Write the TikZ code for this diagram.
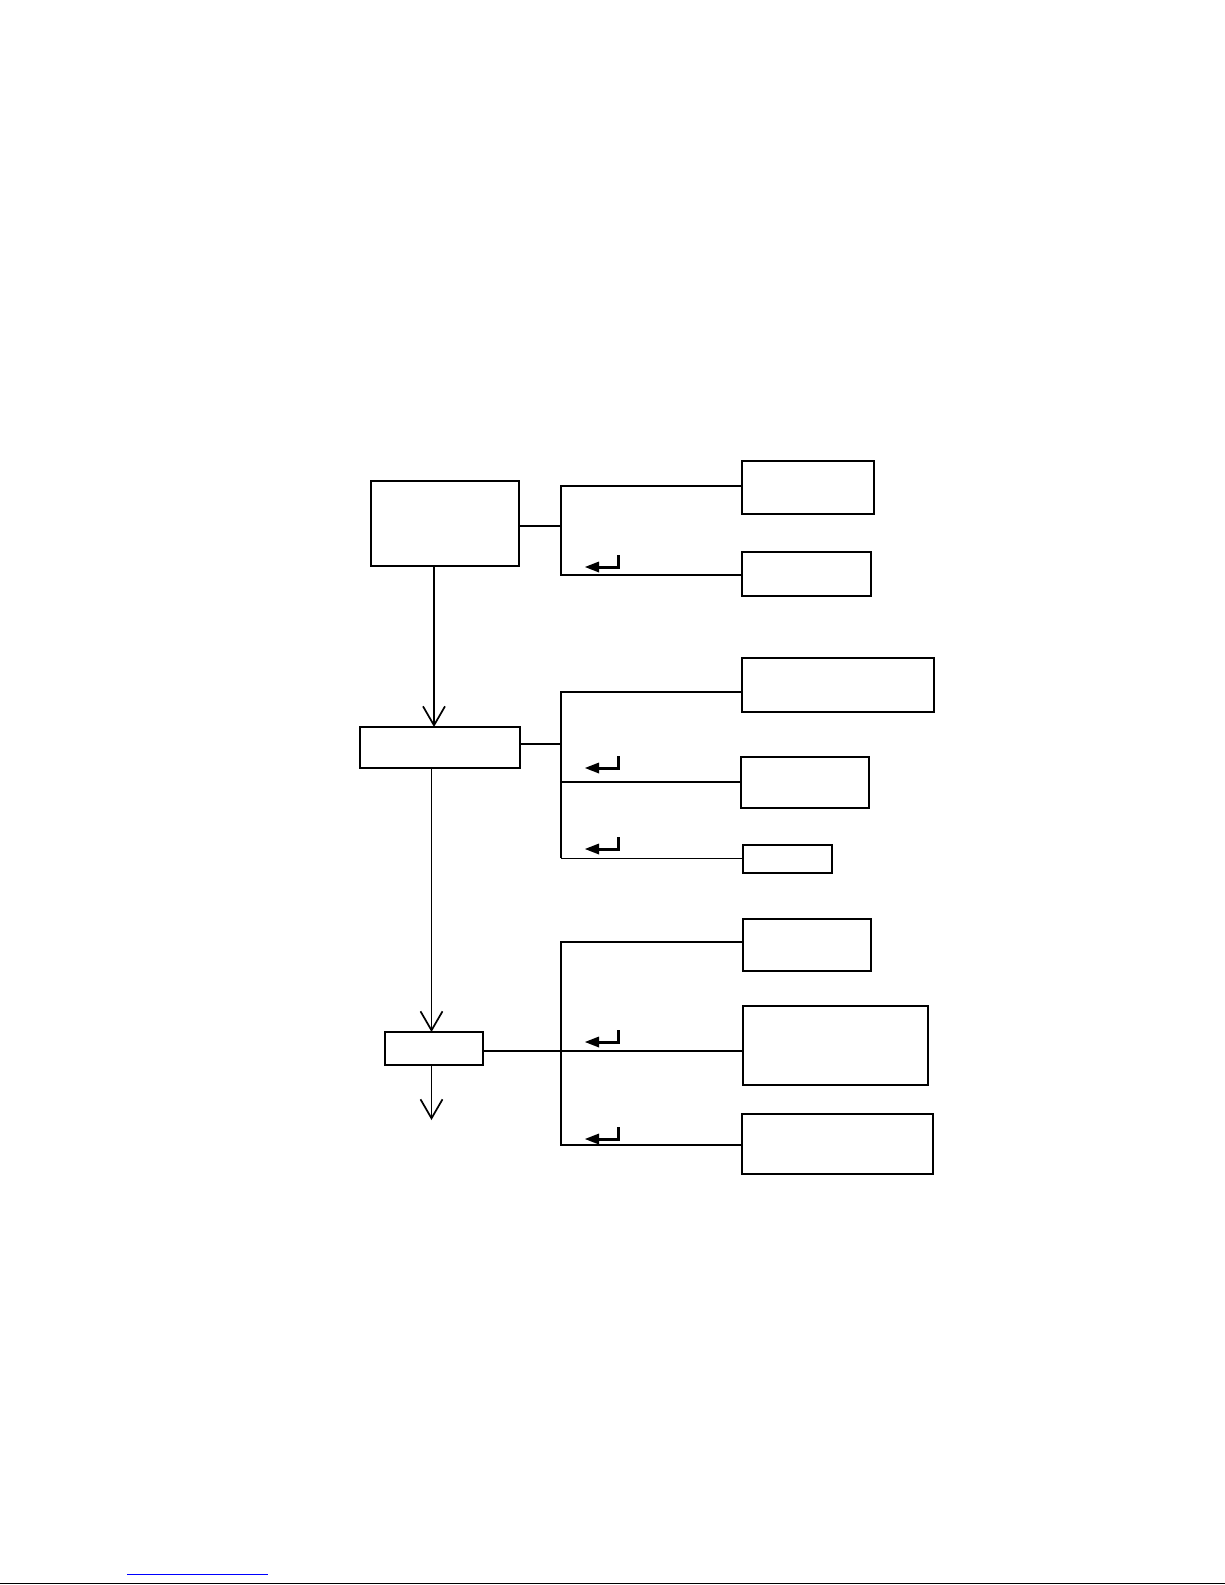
\documentclass[tikz,border=0pt]{standalone}
\usetikzlibrary{arrows.meta}
\begin{document}
\begin{tikzpicture}[x=1pt,y=-1pt,
  box/.style={draw, line width=1.8pt, inner sep=0pt, outer sep=0pt, anchor=north west},
  conn/.style={line width=1.8pt},
  thinconn/.style={line width=0.9pt},
  vtip/.style={-{Straight Barb[length=19pt,width=22pt,line width=1.7pt]}},
  retsym/.pic={
    \draw[line width=3pt] (16,-12) -- (16,0) -- (-5,0);
    \fill (-17,0) -- (-3,-5.5) -- (-3,5.5) -- cycle;
  }]
\useasboundingbox (0,0) rectangle (1225,1585);
% main column
\node[box, minimum width=148pt, minimum height=85pt] (A) at (371,481) {};
\node[box, minimum width=160pt, minimum height=41pt] (B) at (360,727) {};
\node[box, minimum width=98pt,  minimum height=33pt] (C) at (385,1032) {};
% right boxes
\node[box, minimum width=132pt, minimum height=53pt] (R1) at (742,461) {};
\node[box, minimum width=129pt, minimum height=44pt] (R2) at (742,552) {};
\node[box, minimum width=192pt, minimum height=54pt] (R3) at (742,658) {};
\node[box, minimum width=128pt, minimum height=51pt] (R4) at (741,757) {};
\node[box, minimum width=89pt,  minimum height=28pt] (R5) at (743,845) {};
\node[box, minimum width=128pt, minimum height=52pt] (R6) at (743,919) {};
\node[box, minimum width=185pt, minimum height=79pt] (R7) at (743,1006) {};
\node[box, minimum width=191pt, minimum height=60pt] (R8) at (742,1114) {};
% bus coordinates
\coordinate (j1) at (561,526);
\coordinate (b1) at (561,486);
\coordinate (b2) at (561,575);
\coordinate (j2) at (561,744);
\coordinate (b3) at (561,692);
\coordinate (b4) at (561,782);
\coordinate (b5) at (561,858);
\coordinate (j3) at (561,1051);
\coordinate (b6) at (561,942);
\coordinate (b8) at (561,1145);
\coordinate (abx) at (434,0);
\coordinate (bcx) at (431.5,0);
\coordinate (cend) at (431.5,1120);
% group 1
\draw[conn] (A.east |- j1) -- (j1);
\draw[conn] (b1 -| R1.west) -- (b1) -- (b2) -- (b2 -| R2.west);
% group 2
\draw[conn] (B.east |- j2) -- (j2);
\draw[conn] (b3 -| R3.west) -- (b3) -- (b4) -- (b4 -| R4.west);
\draw[conn] (b4) -- (b5);
\draw[thinconn] (b5) -- (b5 -| R5.west);
% group 3
\draw[conn] (C.east |- j3) -- (j3 -| R7.west);
\draw[conn] (b6 -| R6.west) -- (b6) -- (b8) -- (b8 -| R8.west);
% main flow
\draw[conn, vtip] (abx |- A.south) -- (abx |- B.north);
\draw[thinconn, vtip] (bcx |- B.south) -- (bcx |- C.north);
\draw[conn, vtip] (bcx |- C.south) -- (cend);
% return symbols
\pic at (602,567) {retsym};
\pic at (602,768) {retsym};
\pic at (602,849) {retsym};
\pic at (602,1042) {retsym};
\pic at (602,1139) {retsym};
% page rules
\coordinate (pl) at (0,1583.5);
\coordinate (pr) at (1225,1583.5);
\draw[line width=1.8pt] (pl) -- (pr);
\coordinate (ul) at (127,1574.7);
\coordinate (ur) at (268,1574.7);
\draw[blue, line width=1pt] (ul) -- (ur);
\end{tikzpicture}
\end{document}
